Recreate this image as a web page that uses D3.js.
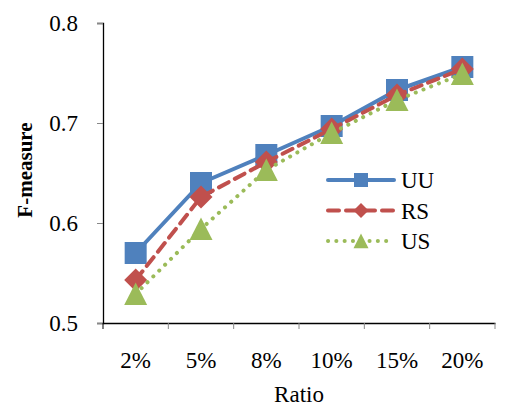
<!DOCTYPE html>
<html>
<head>
<meta charset="utf-8">
<script src="https://cdn.jsdelivr.net/npm/d3@7/dist/d3.min.js"></script>
<style>
  html, body { margin: 0; padding: 0; background: #fff; }
  svg text { font-family: "Liberation Serif", "Times New Roman", "DejaVu Serif", serif !important; }
</style>
</head>
<body>
<svg id="chart" width="521" height="407"></svg>
<script>
// Ratio categories and F-measure per method
const ratios = ["2%", "5%", "8%", "10%", "15%", "20%"];
const uuValues = [0.570, 0.640, 0.668, 0.697, 0.733, 0.756];
const rsValues = [0.543, 0.626, 0.661, 0.694, 0.728, 0.754];
const usValues = [0.529, 0.594, 0.653, 0.690, 0.723, 0.749];
const yTicks = [0.5, 0.6, 0.7, 0.8];
const seriesNames = ["UU", "RS", "US"];

const FONT = "'Liberation Serif', 'Times New Roman', serif";
const FS = 23;
const svg = d3.select("#chart");
const margin = { left: 103, right: 26, top: 23, bottom: 84 };
const W = 521, H = 407;

const x = d3.scaleBand().domain(ratios).range([margin.left, W - margin.right]);
const y = d3.scaleLinear().domain([0.5, 0.8]).range([H - margin.bottom, margin.top]);

// Y axis
const yAxis = svg.append("g").attr("transform", `translate(${margin.left},0)`)
  .call(d3.axisLeft(y).tickValues(yTicks).tickFormat(d3.format(".1f")).tickSize(6).tickPadding(19));
yAxis.attr("font-family", FONT);
yAxis.select(".domain").attr("stroke", "#000").attr("stroke-width", 1.3);
yAxis.selectAll(".tick line").attr("stroke", "#888").attr("stroke-width", 1);
yAxis.selectAll(".tick text").attr("font-size", FS).attr("fill", "#000");

// X axis
const xAxis = svg.append("g").attr("transform", `translate(0,${H - margin.bottom})`)
  .call(d3.axisBottom(x).tickSizeOuter(0).tickSize(0).tickPadding(28.5));
xAxis.attr("font-family", FONT);
xAxis.select(".domain").attr("stroke", "#000").attr("stroke-width", 1.3);
xAxis.selectAll(".tick text").attr("font-size", FS).attr("fill", "#000");
// Category boundary ticks
const bounds = ratios.map(r => x(r)).concat([x(ratios[ratios.length - 1]) + x.bandwidth()]);
xAxis.selectAll("line.bound").data(bounds).enter().append("line")
  .attr("class", "bound")
  .attr("x1", d => d).attr("x2", d => d)
  .attr("y1", 0).attr("y2", 6)
  .attr("stroke", (d, i) => i === 0 ? "#000" : "#888").attr("stroke-width", 1);

// Axis titles
svg.append("text").attr("x", (margin.left + W - margin.right) / 2).attr("y", 402)
  .attr("text-anchor", "middle").attr("font-size", FS).attr("font-family", FONT).text("Ratio");
svg.append("text").attr("transform", `translate(32,170) rotate(-90)`)
  .attr("text-anchor", "middle").attr("font-size", 21).attr("font-weight", "bold")
  .attr("font-family", FONT).text("F-measure");

const cx = d => x(d) + x.bandwidth() / 2;

const series = [
  { name: seriesNames[0], values: uuValues, color: "#4F81BD", dash: null, marker: "square" },
  { name: seriesNames[1], values: rsValues, color: "#C0504D", dash: "11,7", marker: "diamond" },
  { name: seriesNames[2], values: usValues, color: "#9BBB59", dash: "0.1,8.2", marker: "triangle" }
];

const line = d3.line().x((d, i) => cx(ratios[i])).y(d => y(d));

function drawMarker(g, type, px, py, size, color) {
  if (type === "square") {
    g.append("rect").attr("x", px - size / 2).attr("y", py - size / 2)
      .attr("width", size).attr("height", size).attr("fill", color);
  } else if (type === "diamond") {
    const s = size / 2;
    g.append("path").attr("d", `M${px},${py - s}L${px + s},${py}L${px},${py + s}L${px - s},${py}Z`).attr("fill", color);
  } else {
    const s = size / 2;
    g.append("path").attr("d", `M${px},${py - s}L${px + s},${py + s * 0.95}L${px - s},${py + s * 0.95}Z`).attr("fill", color);
  }
}

const sizes = { square: 22, diamond: 23, triangle: 23 };

series.forEach(s => {
  const g = svg.append("g");
  g.append("path").datum(s.values).attr("d", line)
    .attr("fill", "none").attr("stroke", s.color).attr("stroke-width", 4)
    .attr("stroke-linecap", "round").attr("stroke-linejoin", "round")
    .attr("stroke-dasharray", s.dash);
  s.values.forEach((v, i) => drawMarker(g, s.marker, cx(ratios[i]), y(v), sizes[s.marker], s.color));
});

// Legend
const legend = svg.append("g");
series.forEach((s, i) => {
  const ly = 180 + i * 30.5;
  legend.append("line").attr("x1", 328).attr("x2", 394).attr("y1", ly).attr("y2", ly)
    .attr("stroke", s.color).attr("stroke-width", 4).attr("stroke-linecap", "round")
    .attr("stroke-dasharray", s.dash);
  drawMarker(legend, s.marker, 361, ly, s.marker === "square" ? 14 : 15, s.color);
  legend.append("text").attr("x", 401).attr("y", ly + 8).attr("font-size", FS)
    .attr("font-family", FONT).text(s.name);
});
</script>
</body>
</html>
